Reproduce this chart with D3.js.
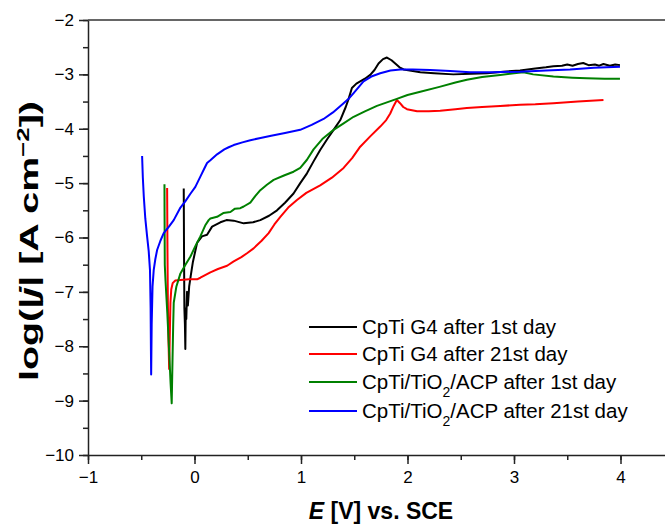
<!DOCTYPE html>
<html>
<head>
<meta charset="utf-8">
<script src="https://cdn.jsdelivr.net/npm/d3@7"></script>
<style>
  body { margin: 0; background: #fff; }
  svg { font-family: Arial, "Liberation Sans", sans-serif; }
</style>
</head>
<body>
<svg id="chart" width="665" height="526"></svg>
<script>
// E [V] vs SCE, log|j| pairs
const cpTiDay1 = [
  [-0.101, -5.1], [-0.098, -6.4], [-0.095, -7.3], [-0.09, -7.6], [-0.086, -8.05], [-0.082, -7.3],
  [-0.077, -7.5], [-0.07, -7.0], [-0.062, -7.25], [-0.05, -6.9], [-0.035, -6.7], [-0.015, -6.45],
  [0.024, -6.1], [0.07, -5.98], [0.118, -5.95], [0.165, -5.8], [0.243, -5.72], [0.3, -5.68],
  [0.368, -5.69], [0.462, -5.74], [0.55, -5.72], [0.618, -5.68], [0.7, -5.6], [0.775, -5.5],
  [0.85, -5.36], [0.93, -5.19], [0.993, -5.0], [1.056, -4.82], [1.118, -4.6], [1.18, -4.39],
  [1.25, -4.18], [1.306, -4.02], [1.369, -3.84], [1.42, -3.6], [1.447, -3.45], [1.478, -3.25],
  [1.52, -3.17], [1.556, -3.13], [1.6, -3.08], [1.65, -3.01], [1.69, -2.92], [1.728, -2.8],
  [1.77, -2.72], [1.807, -2.69], [1.85, -2.74], [1.885, -2.8], [1.925, -2.87], [1.963, -2.91],
  [2.05, -2.94], [2.12, -2.96], [2.25, -2.98], [2.43, -3.0], [2.6, -2.99], [2.745, -2.98],
  [2.9, -2.95], [3.057, -2.93], [3.2, -2.89], [3.3, -2.87], [3.37, -2.85], [3.45, -2.84],
  [3.5, -2.82], [3.55, -2.84], [3.6, -2.81], [3.65, -2.79], [3.7, -2.83], [3.76, -2.82],
  [3.8, -2.84], [3.84, -2.81], [3.9, -2.84], [3.95, -2.82], [3.995, -2.83]
];
const cpTiDay21 = [
  [-0.257, -5.09], [-0.254, -6.2], [-0.25, -7.2], [-0.244, -7.9], [-0.238, -8.42], [-0.232, -7.8],
  [-0.226, -7.2], [-0.218, -6.95], [-0.205, -6.84], [-0.18, -6.79], [-0.132, -6.78], [-0.05, -6.77],
  [0.024, -6.77], [0.055, -6.74], [0.149, -6.64], [0.22, -6.58], [0.306, -6.52], [0.368, -6.44],
  [0.44, -6.36], [0.493, -6.29], [0.555, -6.2], [0.63, -6.06], [0.696, -5.92], [0.75, -5.76],
  [0.806, -5.62], [0.88, -5.45], [0.962, -5.31], [1.05, -5.18], [1.18, -5.04], [1.29, -4.9],
  [1.4, -4.72], [1.48, -4.54], [1.556, -4.33], [1.65, -4.14], [1.744, -3.96], [1.8, -3.84],
  [1.838, -3.72], [1.87, -3.58], [1.9, -3.47], [1.93, -3.53], [1.96, -3.6], [1.995, -3.64],
  [2.09, -3.68], [2.2, -3.68], [2.307, -3.67], [2.45, -3.64], [2.557, -3.62], [2.7, -3.6],
  [2.87, -3.58], [3.057, -3.56], [3.2, -3.55], [3.37, -3.53], [3.6, -3.5], [3.84, -3.47]
];
const acpDay1 = [
  [-0.282, -5.02], [-0.281, -5.6], [-0.279, -6.5], [-0.272, -6.8], [-0.255, -7.4], [-0.238, -8.1],
  [-0.224, -8.7], [-0.214, -9.05], [-0.206, -8.2], [-0.2, -7.6], [-0.195, -7.2], [-0.17, -6.9],
  [-0.132, -6.66], [-0.085, -6.5], [-0.038, -6.35], [0.01, -6.15], [0.055, -5.98], [0.1, -5.78],
  [0.133, -5.68], [0.149, -5.65], [0.212, -5.62], [0.27, -5.55], [0.337, -5.53], [0.38, -5.47],
  [0.43, -5.46], [0.462, -5.43], [0.524, -5.36], [0.57, -5.24], [0.618, -5.13], [0.68, -5.03],
  [0.743, -4.94], [0.84, -4.86], [0.93, -4.79], [0.993, -4.72], [1.056, -4.57], [1.118, -4.38],
  [1.2, -4.19], [1.306, -4.02], [1.4, -3.9], [1.494, -3.78], [1.6, -3.68], [1.713, -3.58],
  [1.8, -3.52], [1.9, -3.45], [2.0, -3.38], [2.12, -3.32], [2.3, -3.23], [2.45, -3.15],
  [2.557, -3.1], [2.7, -3.05], [2.87, -3.01], [3.0, -2.98], [3.088, -2.96], [3.18, -3.0],
  [3.37, -3.04], [3.55, -3.06], [3.683, -3.07], [3.85, -3.08], [3.995, -3.08]
];
const acpDay21 = [
  [-0.492, -4.5], [-0.485, -4.9], [-0.476, -5.25], [-0.462, -5.65], [-0.445, -5.98], [-0.43, -6.25],
  [-0.418, -6.6], [-0.412, -7.3], [-0.409, -8.1], [-0.407, -8.52], [-0.402, -7.6], [-0.394, -6.9],
  [-0.383, -6.6], [-0.368, -6.4], [-0.351, -6.23], [-0.32, -6.06], [-0.289, -5.92], [-0.24, -5.8],
  [-0.195, -5.68], [-0.132, -5.45], [-0.085, -5.33], [-0.04, -5.2], [0.008, -5.07], [0.055, -4.88],
  [0.09, -4.74], [0.118, -4.63], [0.149, -4.58], [0.212, -4.47], [0.28, -4.38], [0.321, -4.34],
  [0.368, -4.3], [0.45, -4.25], [0.524, -4.21], [0.62, -4.17], [0.72, -4.13], [0.85, -4.08],
  [0.993, -4.02], [1.1, -3.93], [1.212, -3.82], [1.3, -3.7], [1.4, -3.53], [1.447, -3.45],
  [1.5, -3.33], [1.587, -3.13], [1.66, -3.04], [1.744, -2.98], [1.84, -2.93], [1.932, -2.91],
  [2.05, -2.91], [2.213, -2.92], [2.4, -2.94], [2.588, -2.96], [2.8, -2.96], [3.057, -2.95],
  [3.3, -2.93], [3.526, -2.91], [3.75, -2.88], [3.995, -2.86]
];

const seriesNames = [
  "CpTi G4 after 1st day",
  "CpTi G4 after 21st day",
  "CpTi/TiO2/ACP after 1st day",
  "CpTi/TiO2/ACP after 21st day"
];
const seriesColors = ["#000000", "#ff0000", "#008000", "#0000ff"];
const seriesData = [cpTiDay1, cpTiDay21, acpDay1, acpDay21];

const xTicks = [-1, 0, 1, 2, 3, 4];
const yTicks = [-10, -9, -8, -7, -6, -5, -4, -3, -2];

const plotLeft = 88, plotTop = 20, plotBottom = 455, plotRight = 727;

const svg = d3.select("#chart");

const x = d3.scaleLinear().domain([-1, 5]).range([plotLeft, plotRight]);
const y = d3.scaleLinear().domain([-10, -2]).range([plotBottom, plotTop]);

// frame top line
svg.append("line")
    .attr("x1", plotLeft).attr("x2", plotRight)
    .attr("y1", plotTop).attr("y2", plotTop)
    .attr("stroke", "#333").attr("stroke-width", 1.5);

// minor ticks
const xMinor = d3.range(-1, 5.01, 0.5);
const yMinor = d3.range(-10, -1.99, 0.5);

const xAxis = svg.append("g")
    .attr("transform", `translate(0,${plotBottom})`)
    .call(d3.axisBottom(x).tickValues(xMinor).tickSize(5).tickFormat(""));
xAxis.select(".domain").remove();
svg.append("g")
    .attr("transform", `translate(0,${plotBottom})`)
    .call(d3.axisBottom(x).tickValues(xTicks).tickSize(9).tickSizeOuter(0).tickPadding(7)
        .tickFormat(d => d < 0 ? "\u2212" + Math.abs(d) : d))
    .call(g => g.selectAll("text").attr("font-size", 17).attr("fill", "#000"));

const yAxis = svg.append("g")
    .attr("transform", `translate(${plotLeft},0)`)
    .call(d3.axisLeft(y).tickValues(yMinor).tickSize(5).tickFormat(""));
yAxis.select(".domain").remove();
svg.append("g")
    .attr("transform", `translate(${plotLeft},0)`)
    .call(d3.axisLeft(y).tickValues(yTicks).tickSize(9).tickSizeOuter(0).tickPadding(5)
        .tickFormat(d => "\u2212" + Math.abs(d)))
    .call(g => g.selectAll("text").attr("font-size", 17).attr("fill", "#000"));

svg.selectAll(".domain, .tick line").attr("stroke", "#222").attr("stroke-width", 1.5);

// curves
const line = d3.line().x(d => x(d[0])).y(d => y(d[1]));
svg.append("g")
    .selectAll("path")
    .data(seriesData)
    .join("path")
    .attr("fill", "none")
    .attr("stroke", (d, i) => seriesColors[i])
    .attr("stroke-width", 2)
    .attr("stroke-linejoin", "round")
    .attr("d", line);

// legend
const legendY = [327, 354, 382, 411];
const legend = svg.append("g").attr("font-size", 20.5);
seriesNames.forEach((name, i) => {
    legend.append("line")
        .attr("x1", 309).attr("x2", 357)
        .attr("y1", legendY[i]).attr("y2", legendY[i])
        .attr("stroke", seriesColors[i]).attr("stroke-width", 2);
    const t = legend.append("text")
        .attr("x", 362).attr("y", legendY[i] + 7);
    const parts = name.split("TiO2");
    if (parts.length > 1) {
        t.append("tspan").text(parts[0] + "TiO");
        t.append("tspan").attr("baseline-shift", "sub").attr("font-size", 14).text("2");
        t.append("tspan").text(parts[1]);
    } else {
        t.text(name);
    }
});

// axis titles
const xt = svg.append("text")
    .attr("x", 381).attr("y", 519)
    .attr("text-anchor", "middle")
    .attr("font-size", 23).attr("font-weight", "bold");
xt.append("tspan").attr("font-style", "italic").text("E");
xt.append("tspan").text(" [V] vs. SCE");

const yt = svg.append("text")
    .attr("transform", "translate(38,241) rotate(-90)")
    .attr("text-anchor", "middle")
    .attr("font-size", 26).attr("font-weight", "bold")
    .attr("textLength", 280).attr("lengthAdjust", "spacingAndGlyphs");
yt.append("tspan").text("log(|");
yt.append("tspan").attr("font-style", "italic").text("j");
yt.append("tspan").text("| [A cm");
yt.append("tspan").attr("baseline-shift", "super").attr("font-size", 17).text("\u22122");
yt.append("tspan").text("])");
</script>
</body>
</html>
